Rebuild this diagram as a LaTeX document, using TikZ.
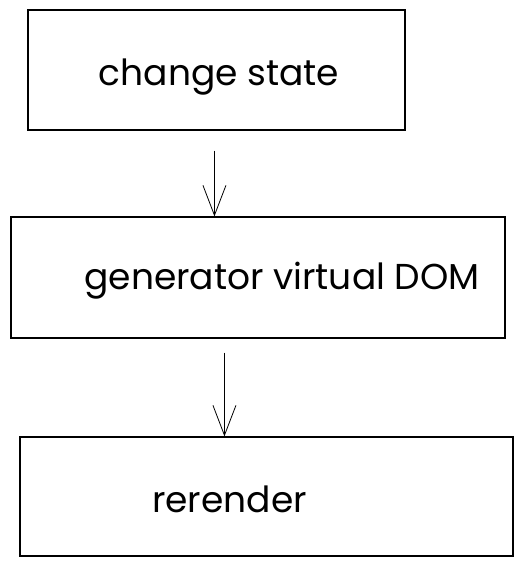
\documentclass[tikz,border=0pt]{standalone}
\usepackage{fontspec}
\setmainfont{Poppins}
\usepackage{tikz}
\usetikzlibrary{arrows.meta}
\usetikzlibrary{positioning}
\tikzstyle{box}=[draw,line width=1.1pt,rectangle,inner sep=0pt]
\tikzstyle{lbl}=[font=\fontsize{36}{40}\selectfont]
\tikzstyle{flow}=[line width=0.8pt,-{Straight Barb[length=30pt,width=23pt,line width=0.8pt]}]

\begin{document}
\begin{tikzpicture}[x=1pt,y=-1pt]
\useasboundingbox (0,0) rectangle (526,566);
\node [box,minimum width=377pt,minimum height=120pt] (state) at (216.5,70) {};
\node [box,minimum width=494pt,minimum height=121pt] (gen) at (258,277.5) {};
\node [box,minimum width=493pt,minimum height=119pt] (render) at (266.5,496.5) {};
% labels
\node at (state) [lbl,xshift=2.5pt,yshift=-7pt] (statetxt) {change state};
\node at (gen) [lbl,xshift=24pt,yshift=-3pt] (gentxt) {generator virtual DOM};
\node at (render) [lbl,xshift=-37pt,yshift=-3pt] (rendertxt) {rerender};

\draw [flow] ([xshift=187pt,yshift=-20pt]state.south west) -- ([xshift=204pt]gen.north west);
\draw [flow] ([xshift=214pt,yshift=-14pt]gen.south west) -- ([xshift=205pt]render.north west);

\end{tikzpicture}
\end{document}
